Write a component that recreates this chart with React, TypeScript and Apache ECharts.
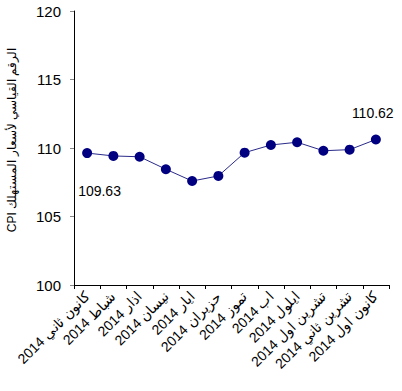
import React, { useEffect, useRef } from "react";
import * as echarts from "echarts";

const categories = [
  "كانون ثاني 2014",
  "شباط 2014",
  "اذار 2014",
  "نيسان 2014",
  "ايار 2014",
  "حزيران 2014",
  "تموز 2014",
  "اب 2014",
  "ايلول 2014",
  "تشرين اول 2014",
  "تشرين ثاني 2014",
  "كانون اول 2014",
];
const cpiValues = [109.63, 109.42, 109.36, 108.45, 107.59, 107.96, 109.66, 110.22, 110.42, 109.8, 109.88, 110.62];
const yTicks = { min: 100, max: 120, interval: 5 };
const yAxisName = "CPI الرقم القياسي لأسعار المستهلك";

const FONT = "Liberation Sans, Arial, sans-serif";

export default function App() {
  const ref = useRef<HTMLDivElement>(null);
  useEffect(() => {
    if (!ref.current) return;
    const chart = echarts.init(ref.current, undefined, { renderer: "svg" });
    const last = cpiValues.length - 1;
    chart.setOption({
      animation: false,
      textStyle: { fontFamily: FONT },
      grid: { left: 74, right: 13, top: 11, bottom: 106, containLabel: false, outerBoundsMode: "none" },
      xAxis: {
        type: "category",
        data: categories,
        boundaryGap: true,
        axisLine: { lineStyle: { color: "#000", width: 1 } },
        axisTick: { show: true, length: 4, lineStyle: { color: "#000" }, alignWithLabel: false },
        axisLabel: {
          rotate: 45,
          interval: 0,
          margin: 9,
          color: "#000",
          fontSize: 14,
          fontFamily: FONT,
        },
      },
      yAxis: {
        type: "value",
        min: yTicks.min,
        max: yTicks.max,
        interval: yTicks.interval,
        name: yAxisName,
        nameLocation: "middle",
        nameRotate: 90,
        nameGap: 56,
        nameTextStyle: { color: "#000", fontSize: 12, fontFamily: FONT, padding: [0, 0, 0, 16] },
        axisLine: { show: true, lineStyle: { color: "#000", width: 1 } },
        axisTick: { show: true, length: 4, lineStyle: { color: "#888" } },
        splitLine: { show: false },
        axisLabel: { color: "#000", fontSize: 15, margin: 13, fontFamily: FONT },
      },
      series: [
        {
          type: "line",
          data: cpiValues.map((v, i) => {
            if (i === 0) {
              return {
                value: v,
                label: { show: true, position: [-4, 36], formatter: "109.63", color: "#000", fontSize: 14, fontFamily: FONT },
              };
            }
            if (i === last) {
              return {
                value: v,
                label: { show: true, position: [-19, -29], formatter: "110.62", color: "#000", fontSize: 14, fontFamily: FONT },
              };
            }
            return v;
          }),
          symbol: "circle",
          symbolSize: 10,
          itemStyle: { color: "#000080" },
          lineStyle: { color: "#2a2a8a", width: 1 },
        },
      ],
    });
    return () => chart.dispose();
  }, []);
  return <div ref={ref} style={{ position: "absolute", left: 0, top: 0, width: 402, height: 391 }} />;
}
